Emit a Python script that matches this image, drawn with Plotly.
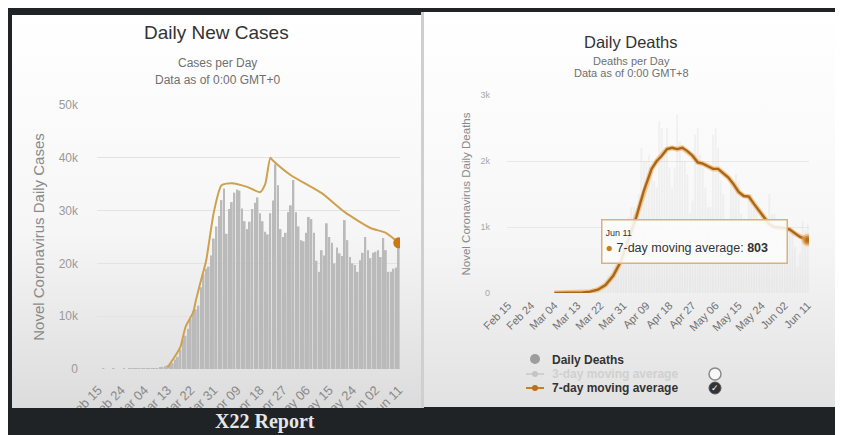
import base64
import pandas as pd
import plotly.graph_objects as go

# page body has an 8px margin: the figure covers (8,8)-(843,435) of the window
OFF = 8
W, H = 843 - OFF, 435 - OFF

# ---------------- data ----------------
dates = pd.date_range("2020-02-15", "2020-06-11", freq="D")

cases_daily = [
    0, 0, 1, 0, 0, 0, 1, 0, 0, 0, 3, 0, 3, 5, 8,
    10, 30, 25, 30, 70, 100, 120, 120, 180, 300, 400, 500, 700, 900, 1100, 1800,
    2300, 3700, 5600, 6300, 7600, 9500, 11000, 11300, 12000, 15500, 18000, 19000, 19400, 21500, 24700,
    27000, 29000, 32000, 34200, 25600, 30300, 31600, 33400, 34000, 33800, 30400, 28000, 26500, 27900, 30300,
    31500, 32500, 29500, 28000, 26000, 25500, 29500, 31900, 38800, 34800, 26500, 25000, 25800, 29700, 31000,
    35800, 29700, 27000, 24400, 24200, 25800, 28800, 28400, 25800, 20500, 18400, 22500, 21500, 27600, 25000,
    23900, 20000, 23000, 21900, 21400, 28200, 24400, 21200, 20000, 19700, 18400, 20600, 22000, 25000, 22500,
    21000,
    22000, 22200, 22500, 21200, 24800, 22500, 18400, 18400, 19000, 19200, 23500,
]

cases_line_dates = [
    "2020-03-13", "2020-03-16", "2020-03-18", "2020-03-20", "2020-03-23", "2020-03-24",
    "2020-03-26", "2020-03-28", "2020-03-31", "2020-04-03", "2020-04-07", "2020-04-13",
    "2020-04-18", "2020-04-20", "2020-04-22", "2020-04-23", "2020-04-30", "2020-05-12",
    "2020-05-21", "2020-05-31", "2020-06-06", "2020-06-11",
]
cases_line_values = [
    300, 2500, 4200, 8000, 10800, 13000,
    16800, 20500, 29700, 34800, 35200, 34500,
    33500, 35000, 40000, 39500, 36700, 33300,
    29700, 26700, 25800, 23900,
]

deaths_daily = [
    0, 0, 0, 0, 0, 0, 0, 0, 0, 0, 0, 0, 0, 0, 1,
    1, 5, 1, 4, 1, 2, 3, 4, 4, 5, 8, 4, 10, 10, 12, 18,
    25, 35, 50, 60, 70, 110, 140, 200, 270, 300, 400, 500, 400, 560, 900,
    1000, 1150, 1300, 1300, 1200, 1500, 2200, 2000, 2000, 2100, 1900, 1700, 1600, 2600, 2500,
    2200, 2500, 1900, 1600, 1900, 2700, 2300, 2000, 2000, 1800, 1200, 1400, 2400, 2500, 2100,
    1900, 1600, 1300, 1300, 2400, 2500, 2200, 1700, 1500, 800, 1000, 1700, 1700, 1800, 1700,
    1200, 850, 1000, 1500, 1500, 1300, 1300, 1000, 600, 550, 700, 1500, 1200, 1200, 900,
    650,
    800, 1100, 1050, 1000, 900, 700, 400, 600, 1100, 950, 1050,
]

deaths_avg_dates = [
    "2020-03-04", "2020-03-10", "2020-03-15", "2020-03-18", "2020-03-21", "2020-03-24",
    "2020-03-27", "2020-03-30", "2020-04-02", "2020-04-05", "2020-04-08", "2020-04-11",
    "2020-04-13", "2020-04-15", "2020-04-17", "2020-04-19", "2020-04-21", "2020-04-23",
    "2020-04-25", "2020-04-27", "2020-04-29", "2020-05-01", "2020-05-03", "2020-05-05",
    "2020-05-07", "2020-05-09", "2020-05-11", "2020-05-13", "2020-05-15", "2020-05-17",
    "2020-05-19", "2020-05-21", "2020-05-23", "2020-05-25", "2020-05-27", "2020-05-29",
    "2020-05-31", "2020-06-02", "2020-06-04", "2020-06-06", "2020-06-08", "2020-06-10",
    "2020-06-11",
]
deaths_avg_values = [
    0, 2, 8, 20, 50, 120,
    260, 480, 800, 1150, 1550, 1880,
    2000, 2080, 2180, 2200, 2180, 2200,
    2150, 2080, 1980, 1960, 1920, 1880,
    1880, 1820, 1750, 1650, 1530, 1470,
    1460, 1350, 1250, 1140, 1040, 1000,
    990, 985, 960, 900, 850, 820,
    803,
]

tick_dates = ["2020-02-15", "2020-02-24", "2020-03-04", "2020-03-13", "2020-03-22", "2020-03-31",
              "2020-04-09", "2020-04-18", "2020-04-27", "2020-05-06", "2020-05-15", "2020-05-24",
              "2020-06-02", "2020-06-11"]
tick_labels = ["Feb 15", "Feb 24", "Mar 04", "Mar 13", "Mar 22", "Mar 31", "Apr 09", "Apr 18",
               "Apr 27", "May 06", "May 15", "May 24", "Jun 02", "Jun 11"]

cases_yticks = [0, 10000, 20000, 30000, 40000, 50000]
cases_ylabels = ["0", "10k", "20k", "30k", "40k", "50k"]
deaths_yticks = [0, 1000, 2000, 3000]
deaths_ylabels = ["0", "1k", "2k", "3k"]


# ---------------- helpers (window pixel -> paper fraction) ----------------
def px(x):
    return (x - OFF) / W


def py(y):
    return 1 - (y - OFF) / H


def grad_uri(c0, c1, c2):
    svg = ('<svg xmlns="http://www.w3.org/2000/svg" width="10" height="100" viewBox="0 0 10 100" '
           'preserveAspectRatio="none"><defs><linearGradient id="g" x1="0" y1="0" x2="0" y2="1">'
           f'<stop offset="0" stop-color="{c0}"/><stop offset="0.55" stop-color="{c1}"/>'
           f'<stop offset="1" stop-color="{c2}"/></linearGradient></defs>'
           '<rect width="10" height="100" fill="url(#g)"/></svg>')
    return "data:image/svg+xml;base64," + base64.b64encode(svg.encode()).decode()


FONT = "Liberation Sans, Arial, sans-serif"

fig = go.Figure()

# left: daily new cases
fig.add_trace(go.Bar(x=dates, y=cases_daily, marker=dict(color="#bababa", line=dict(width=0)),
                     xaxis="x", yaxis="y", showlegend=False))
fig.add_trace(go.Scatter(x=cases_line_dates, y=cases_line_values, mode="lines",
                         line=dict(color="#cfa04e", width=2, shape="spline", smoothing=0.6),
                         xaxis="x", yaxis="y", showlegend=False))
fig.add_trace(go.Scatter(x=[cases_line_dates[-1]], y=[cases_line_values[-1]], mode="markers",
                         marker=dict(color="#c97a17", size=11), xaxis="x", yaxis="y", showlegend=False))

# right: daily deaths
fig.add_trace(go.Bar(x=dates, y=deaths_daily, marker=dict(color="rgba(200,200,200,0.2)", line=dict(width=0)),
                     xaxis="x2", yaxis="y2", showlegend=False))
fig.add_trace(go.Scatter(x=deaths_avg_dates, y=deaths_avg_values, mode="lines",
                         line=dict(color="rgba(240,170,80,0.6)", width=5),
                         xaxis="x2", yaxis="y2", showlegend=False))
fig.add_trace(go.Scatter(x=deaths_avg_dates, y=deaths_avg_values, mode="lines",
                         line=dict(color="#a8661a", width=2.4),
                         xaxis="x2", yaxis="y2", showlegend=False))
fig.add_trace(go.Scatter(x=[deaths_avg_dates[-1]], y=[deaths_avg_values[-1]], mode="markers",
                         marker=dict(color="#b8701a", size=9, line=dict(color="rgba(235,170,100,0.55)", width=4)),
                         xaxis="x2", yaxis="y2", showlegend=False))

xrange = ["2020-02-14 12:00", "2020-06-11 12:00"]

fig.update_layout(
    width=W, height=H, margin=dict(l=0, r=0, t=0, b=0, autoexpand=False),
    paper_bgcolor="#202427", plot_bgcolor="rgba(0,0,0,0)",
    bargap=0.3, font=dict(family=FONT),
    xaxis=dict(domain=[px(97), px(400)], type="date", range=xrange, tickvals=tick_dates,
               ticktext=tick_labels, tickangle=-45, showgrid=False, zeroline=False, showline=False,
               tickfont=dict(size=13, color="#8a8a8a"), ticks="", ticklabelstandoff=10, anchor="y",
               automargin=False),
    yaxis=dict(domain=[py(369), py(105)], range=[0, 50000], tickvals=cases_yticks, ticktext=cases_ylabels,
               gridcolor="#e3e3e3", zeroline=False, showline=False, ticks="",
               tickfont=dict(size=12, color="#9a9a9a"), ticklabelstandoff=18,
               title=dict(text="Novel Coronavirus Daily Cases", font=dict(size=15, color="#8a8a8a"),
                          standoff=10), anchor="x", automargin=False),
    xaxis2=dict(domain=[px(507), px(809)], type="date", range=xrange, tickvals=tick_dates,
                ticktext=tick_labels, tickangle=-45, showgrid=False, zeroline=False, showline=False,
                tickfont=dict(size=11, color="#707070"), ticks="", ticklabelstandoff=3, anchor="y2",
                automargin=False),
    yaxis2=dict(domain=[py(293), py(95)], range=[0, 3000], tickvals=deaths_yticks, ticktext=deaths_ylabels,
                gridcolor="#e8e8e8", zeroline=False, showline=False, ticks="",
                tickfont=dict(size=9, color="#a8a8a8"), ticklabelstandoff=16,
                title=dict(text="Novel Coronavirus Daily Deaths", font=dict(size=11.5, color="#8a8a8a"),
                           standoff=7), anchor="x2", automargin=False),
)

# panels (gradient backgrounds)
fig.add_layout_image(source=grad_uri("#ffffff", "#f6f6f6", "#dcdcdc"), xref="paper", yref="paper",
                     x=px(12), y=py(15), sizex=px(421) - px(12), sizey=py(15) - py(408),
                     xanchor="left", yanchor="top", sizing="stretch", layer="below")
fig.add_layout_image(source=grad_uri("#ffffff", "#f7f7f7", "#e2e2e2"), xref="paper", yref="paper",
                     x=px(424), y=py(12), sizex=px(835) - px(424), sizey=py(12) - py(407),
                     xanchor="left", yanchor="top", sizing="stretch", layer="below")

shapes = [
    dict(type="rect", xref="paper", yref="paper", x0=px(421), x1=px(424), y0=py(408), y1=py(12),
         fillcolor="#cfcfcf", line=dict(width=0), layer="below"),
    dict(type="rect", xref="paper", yref="paper", x0=0, x1=1, y0=0, y1=py(408),
         fillcolor="#202326", line=dict(width=0), layer="above"),
    dict(type="circle", xref="paper", yref="paper", x0=px(530), x1=px(540), y0=py(364), y1=py(354),
         fillcolor="#9d9d9d", line=dict(width=0)),
    dict(type="line", xref="paper", yref="paper", x0=px(526), x1=px(544), y0=py(374), y1=py(374),
         line=dict(color="#cfcfcf", width=2)),
    dict(type="circle", xref="paper", yref="paper", x0=px(532), x1=px(538), y0=py(377), y1=py(371),
         fillcolor="#c4c4c4", line=dict(width=0)),
    dict(type="line", xref="paper", yref="paper", x0=px(526), x1=px(544), y0=py(388), y1=py(388),
         line=dict(color="#c8801c", width=2)),
    dict(type="circle", xref="paper", yref="paper", x0=px(532), x1=px(538), y0=py(391), y1=py(385),
         fillcolor="#b8701a", line=dict(width=0)),
    dict(type="circle", xref="paper", yref="paper", x0=px(709), x1=px(721), y0=py(380), y1=py(368),
         fillcolor="#f8f8f8", line=dict(color="#8a8a8a", width=1.5)),
    dict(type="circle", xref="paper", yref="paper", x0=px(709), x1=px(721), y0=py(394), y1=py(382),
         fillcolor="#333333", line=dict(color="#555555", width=1)),
]
fig.update_layout(shapes=shapes)

ann = []


def text(x, y, s, size, color, bold=False, family=FONT, xanchor="center"):
    ann.append(dict(xref="paper", yref="paper", x=px(x), y=py(y), text=(f"<b>{s}</b>" if bold else s),
                    showarrow=False, xanchor=xanchor, yanchor="middle",
                    font=dict(size=size, color=color, family=family)))


text(216, 33, "Daily New Cases", 19, "#333333")
text(217, 63, "Cases per Day", 12, "#707070")
text(217, 80, "Data as of 0:00 GMT+0", 12, "#707070")
text(631, 42, "Daily Deaths", 16.5, "#333333")
text(631, 61, "Deaths per Day", 11, "#707070")
text(631, 73, "Data as of 0:00 GMT+8", 11, "#707070")

text(550, 360, "Daily Deaths", 12, "#333333", bold=True, xanchor="left")
text(550, 374, "3-day moving average", 12, "#d0d0d0", bold=True, xanchor="left")
text(550, 388, "7-day moving average", 12, "#333333", bold=True, xanchor="left")
text(715, 388, "✓", 9, "#ffffff")

text(265, 421, "X22 Report", 20, "#e6e6e6", bold=True, family="Liberation Serif, DejaVu Serif, serif")

# tooltip
ann.append(dict(xref="paper", yref="paper", x=px(601), y=py(241.5), xanchor="left", yanchor="middle",
                text=(f"<span style='font-size:9px'>{'Jun 11'}</span><br>"
                      f"<span style='color:#c8801c'>●</span> 7-day moving average: "
                      f"<b>{deaths_avg_values[-1]}</b>"),
                showarrow=False, align="left", width=178, height=36,
                bgcolor="rgba(252,252,252,0.88)", bordercolor="#d9b27a", borderwidth=1.5, borderpad=3,
                font=dict(size=12.5, color="#333333", family=FONT)))

fig.update_layout(annotations=ann)

fig.write_html("out.html")
